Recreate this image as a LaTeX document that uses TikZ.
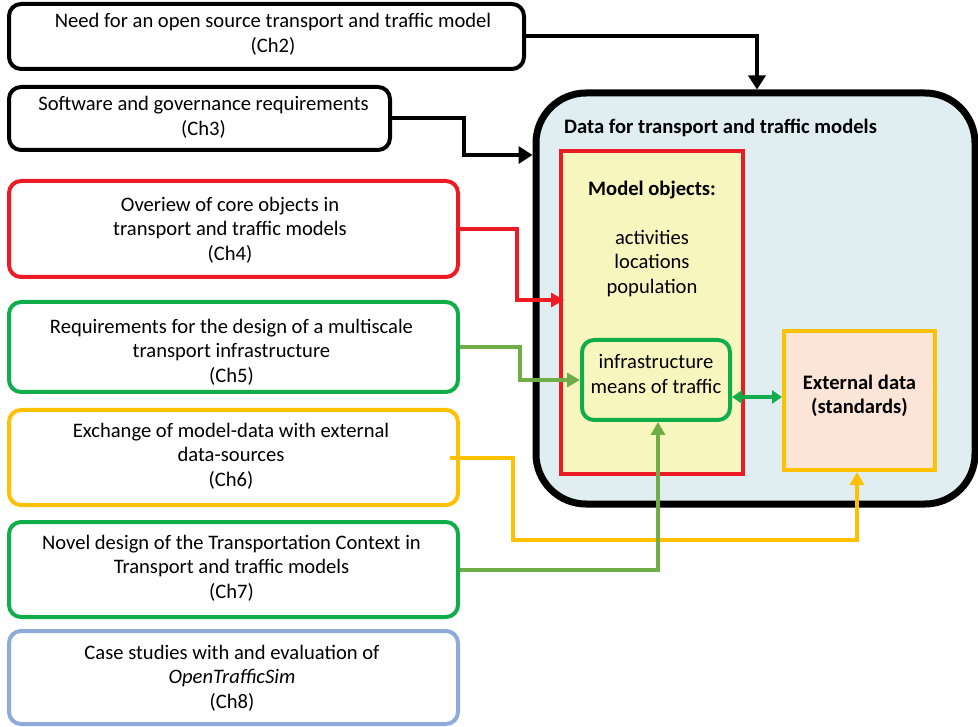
\documentclass[tikz,border=0pt]{standalone}
\usepackage{fontspec}
\setmainfont{Carlito}
\usetikzlibrary{arrows.meta,calc}
\definecolor{cred}{HTML}{ED1C24}
\definecolor{cgreen}{HTML}{12AD4B}
\definecolor{clgreen}{HTML}{70AD47}
\definecolor{cyellow}{HTML}{FFC000}
\definecolor{cblue}{HTML}{8EAADB}
\definecolor{ccont}{HTML}{E0EEF2}
\definecolor{cmodel}{HTML}{F6F6BE}
\definecolor{cext}{HTML}{FCE4D6}
\begin{document}
\begin{tikzpicture}[x=1pt,y=-1pt,
  every node/.style={font=\fontsize{20.6}{24.5}\selectfont, align=center, inner sep=0pt},
  chap/.style={draw, line width=4pt, rounded corners=12pt, fill=white, minimum width=449pt},
  conn/.style={line width=4pt},
  blk/.style={conn, black, -{Triangle[length=14pt,width=17pt]}},
  tipm/.style={-{Triangle[length=13pt,width=14pt]}},
  bf/.style={font=\fontsize{20.6}{24.5}\selectfont\bfseries},
]
\useasboundingbox (0,0) rectangle (978,727);
% container
\node[draw, line width=7pt, rounded corners=50pt, fill=ccont, minimum width=439pt, minimum height=411pt] (cont) at (755.5,298.5) {};
\node[anchor=west, bf] (title) at (564,128) {Data for transport and traffic models};
\node[draw=cred, line width=4pt, fill=cmodel, minimum width=182pt, minimum height=323pt] (model) at (652,312.5) {};
\node[bf] (mtitle) at (652,190) {Model objects:};
\node (mlist) at (652,263.5) {activities\\locations\\population};
\node[draw=cgreen, line width=4pt, rounded corners=12pt, fill=cmodel, minimum width=148pt, minimum height=80pt] (infra) at (656,380) {};
\node (infratxt) at (656,374) {infrastructure\\means of traffic};
\node[draw=cyellow, line width=4pt, fill=cext, minimum width=151pt, minimum height=139pt] (ext) at (859.5,400.5) {};
\node[bf] (exttxt) at (859.5,396) {External data\\(standards)};
% chapter boxes
\node[chap, draw=black, minimum width=515pt, minimum height=65pt] (b1) at (266.5,36.5) {};
\node (t1) at (273,34.5) {Need for an open source transport and traffic model\\(Ch2)};
\node[chap, draw=black, minimum width=381pt, minimum height=63pt] (b2) at (199.5,118.5) {};
\node (t2) at (203.5,117.5) {Software and governance requirements\\(Ch3)};
\node[chap, draw=cred, minimum height=96pt] (b3) at (233.5,229) {};
\node (t3) at (230,230) {Overiew of core objects in\\transport and traffic models\\(Ch4)};
\node[chap, draw=cgreen, minimum height=90pt] (b4) at (233.5,347) {};
\node (t4) at (231.5,352) {Requirements for the design of a multiscale\\transport infrastructure\\(Ch5)};
\node[chap, draw=cyellow, minimum height=95pt] (b5) at (233.5,457.5) {};
\node (t5) at (231,456) {Exchange of model-data with external\\data-sources\\(Ch6)};
\node[chap, draw=cgreen, minimum height=95pt] (b6) at (233.5,569.5) {};
\node (t6) at (231.5,568) {Novel design of the Transportation Context in\\Transport and traffic models\\(Ch7)};
\node[chap, draw=cblue, minimum height=93pt] (b7) at (233.5,677.5) {};
\node (t7) at (232,678) {Case studies with and evaluation of\\\textit{OpenTrafficSim}\\(Ch8)};
% connectors
\draw[blk] (b1.east) -| (757,0 |- cont.north);
\draw[blk] (b2.east) -- ++(72,0) |- (cont.west |- 0,155);
\draw[conn, cred, tipm] (b3.east) -- ++(57,0) |- ([xshift=5pt]model.west |- 0,300);
\draw[conn, clgreen, tipm] (b4.east) -- ++(60,0) |- (infra.west |- 0,380);
\draw[conn, cgreen, {Triangle[length=10pt,width=13pt]}-{Triangle[length=10pt,width=13pt]}] (infra.east |- 0,397) -- (ext.west |- 0,397);
\draw[conn, cyellow, tipm] (450,0 |- b5.east) -- ++(63,0) -- ++(0,82) -| (857,0 |- ext.south);
\draw[conn, clgreen, tipm] (b6.east) -| (658,0 |- infra.south);
\end{tikzpicture}
\end{document}
